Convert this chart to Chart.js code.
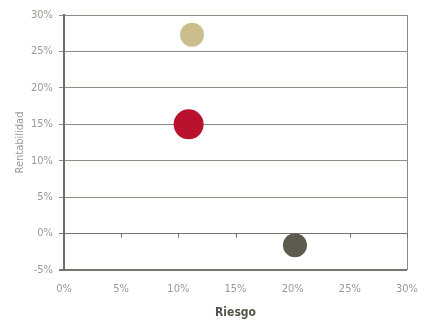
<!DOCTYPE html>
<html>
<head>
<meta charset="utf-8">
<script src="https://cdn.jsdelivr.net/npm/chart.js@4/dist/chart.umd.min.js"></script>
<style>
  html, body { margin: 0; padding: 0; background: #fff; }
  #wrap { width: 424px; height: 320px; }
</style>
</head>
<body>
<div id="wrap"><canvas id="riskChart" width="424" height="320"></canvas></div>
<script>
// risk (x) / return (y), in percent
const pointNames = ["A", "B", "C"];
const riesgo = [11.2, 10.9, 20.2];
const rentabilidad = [27.3, 15.0, -1.6];
const pointSizes = [12, 15, 12];
const pointColors = ["#c8bd8b", "#b8122f", "#5c5b4d"];

const xTicks = [0, 5, 10, 15, 20, 25, 30];
const yTicks = [-5, 0, 5, 10, 15, 20, 25, 30];

const fontFamily = "'Liberation Sans Narrow', 'DejaVu Sans Condensed', 'Liberation Sans', sans-serif";

// tick marks along the 0% line, like the original
const zeroAxisPlugin = {
    id: "zeroAxis",
    afterDraw(chart) {
        const ctx = chart.ctx;
        const x = chart.scales.x;
        const y0 = chart.scales.y.getPixelForValue(0);
        ctx.save();
        ctx.strokeStyle = "#6f6f63";
        ctx.lineWidth = 1;
        xTicks.forEach(t => {
            const px = Math.round(x.getPixelForValue(t)) + 0.5;
            ctx.beginPath();
            ctx.moveTo(px, y0);
            ctx.lineTo(px, y0 + 4);
            ctx.stroke();
        });
        ctx.restore();
    }
};

const ctx = document.getElementById("riskChart").getContext("2d");
new Chart(ctx, {
    type: "bubble",
    data: {
        datasets: [{
            label: "Carteras",
            data: pointNames.map((n, i) => ({ x: riesgo[i], y: rentabilidad[i], r: pointSizes[i] })),
            backgroundColor: pointColors,
            borderWidth: 0,
            hoverBorderWidth: 0
        }]
    },
    options: {
        responsive: false,
        animation: false,
        events: [],
        layout: { padding: { top: 13, right: 17, left: 10, bottom: 0 } },
        plugins: { legend: { display: false }, tooltip: { enabled: false } },
        scales: {
            x: {
                type: "linear",
                min: 0,
                max: 30,
                afterBuildTicks: s => { s.ticks = xTicks.map(v => ({ value: v })); },
                afterFit: s => { s.height = 50; s.paddingLeft = 0; s.paddingRight = 0; },
                border: { display: false },
                grid: {
                    drawTicks: false,
                    color: c => c.tick && c.tick.value === 30 ? "#8c8c80" : "rgba(0,0,0,0)",
                    lineWidth: 1
                },
                ticks: {
                    padding: 13,
                    color: "#9a9a92",
                    font: { family: fontFamily, size: 11 },
                    callback: v => v + "%"
                },
                title: {
                    display: true,
                    text: "Riesgo",
                    color: "#55554b",
                    font: { family: fontFamily, size: 12, weight: "bold" },
                    padding: { top: 6, bottom: 0 }
                }
            },
            y: {
                type: "linear",
                min: -5,
                max: 30,
                afterBuildTicks: s => { s.ticks = yTicks.map(v => ({ value: v })); },
                afterFit: s => { s.width = 54; s.paddingTop = 0; s.paddingBottom = 0; },
                border: { display: true, color: "#6f6f63", width: 2 },
                grid: {
                    color: c => c.tick && (c.tick.value === 0 || c.tick.value === -5) ? "#75756a" : "#8c8c80",
                    lineWidth: c => c.tick && c.tick.value === -5 ? 2 : 1,
                    tickLength: 5
                },
                ticks: {
                    padding: 6,
                    color: "#9a9a92",
                    font: { family: fontFamily, size: 11 },
                    callback: v => v + "%"
                },
                title: {
                    display: true,
                    text: "Rentabilidad",
                    color: "#9a9a92",
                    font: { family: fontFamily, size: 11 },
                    padding: { bottom: 4 }
                }
            }
        }
    },
    plugins: [zeroAxisPlugin]
});
</script>
</body>
</html>
